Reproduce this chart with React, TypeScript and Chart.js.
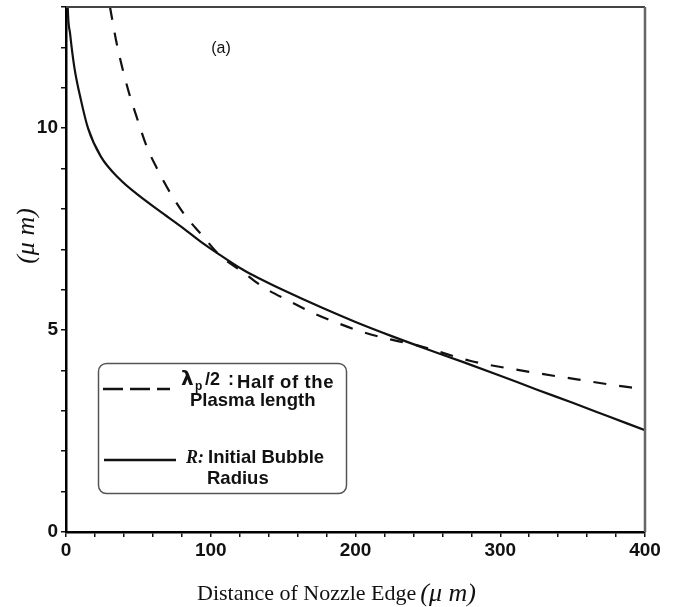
import React, { useEffect, useRef } from "react";
import { Chart, registerables } from "chart.js";

Chart.register(...registerables);

// Solid curve: R, initial bubble radius (µm) vs distance of nozzle edge (µm)
const SOLID_X = [0.6, 1.2, 2.8, 5.8, 10.3, 15.2, 24, 37, 50, 65, 80, 93, 106, 122, 134, 150, 177, 200, 225, 250, 275, 300, 325, 350, 375, 400];
const SOLID_Y = [14.2, 13.0, 12.35, 11.5, 10.7, 10.0, 9.3, 8.74, 8.34, 7.94, 7.55, 7.19, 6.87, 6.5, 6.27, 5.99, 5.55, 5.2, 4.85, 4.52, 4.2, 3.87, 3.53, 3.2, 2.86, 2.52];

// Dashed curve: λp/2, half of the plasma length
const DASH_X = [30.4, 35, 43, 48.8, 55.7, 62.6, 72, 82, 94, 106, 122, 136, 153, 171, 188, 205, 224, 244, 279, 316, 353, 390, 400];
const DASH_Y = [13.0, 12.1, 10.94, 10.28, 9.55, 9.02, 8.4, 7.85, 7.35, 6.86, 6.44, 6.07, 5.74, 5.42, 5.17, 4.95, 4.77, 4.61, 4.24, 3.99, 3.78, 3.58, 3.55];

const X_MAJOR = [0, 100, 200, 300, 400];
const Y_MAJOR = [0, 5, 10];

const X_TITLE = "Distance of Nozzle Edge";
const UNIT = "(\u03bc m)";
const PANEL = "(a)";

const toPts = (xs: number[], ys: number[]) => xs.map((x, i) => ({ x, y: ys[i] }));

const decor = {
  id: "decor",
  afterDraw(chart: any) {
    const ctx = chart.ctx as CanvasRenderingContext2D;
    const a = chart.chartArea;
    ctx.save();
    // top and right frame
    ctx.lineWidth = 2;
    ctx.strokeStyle = "#444";
    ctx.beginPath();
    ctx.moveTo(a.left, a.top);
    ctx.lineTo(a.right, a.top);
    ctx.stroke();
    ctx.strokeStyle = "#666";
    ctx.lineWidth = 2.5;
    ctx.beginPath();
    ctx.moveTo(a.right, a.top);
    ctx.lineTo(a.right, a.bottom);
    ctx.stroke();

    // y title
    ctx.fillStyle = "#111";
    ctx.save();
    ctx.translate(27, 236);
    ctx.rotate(-Math.PI / 2);
    ctx.font = "italic 26px 'Liberation Serif', serif";
    ctx.textAlign = "center";
    ctx.textBaseline = "middle";
    ctx.fillText(UNIT, 0, 0);
    ctx.restore();

    // x title
    ctx.textAlign = "left";
    ctx.textBaseline = "alphabetic";
    ctx.font = "22px 'Liberation Serif', serif";
    ctx.fillText(X_TITLE, 197, 600);
    const w = ctx.measureText(X_TITLE).width;
    ctx.font = "italic 26px 'Liberation Serif', serif";
    ctx.fillText(UNIT, 197 + w + 4, 601);

    // panel label
    ctx.font = "16px 'Liberation Sans', sans-serif";
    ctx.textAlign = "center";
    ctx.textBaseline = "middle";
    ctx.fillText(PANEL, 221, 49);

    // legend box
    ctx.strokeStyle = "#555";
    ctx.lineWidth = 1.5;
    ctx.beginPath();
    (ctx as any).roundRect(98.5, 363.5, 248, 130, 8);
    ctx.stroke();

    ctx.strokeStyle = "#111";
    ctx.lineWidth = 2.5;
    ctx.setLineDash([20, 7]);
    ctx.beginPath();
    ctx.moveTo(103, 389);
    ctx.lineTo(170, 389);
    ctx.stroke();
    ctx.setLineDash([]);
    ctx.beginPath();
    ctx.moveTo(104, 460);
    ctx.lineTo(176, 460);
    ctx.stroke();

    ctx.textAlign = "left";
    ctx.textBaseline = "alphabetic";
    ctx.fillStyle = "#111";
    ctx.font = "bold 20px 'DejaVu Sans', sans-serif";
    ctx.fillText("\u03bb", 181, 385);
    ctx.font = "bold 12px 'Liberation Sans', sans-serif";
    ctx.fillText("p", 195, 390);
    ctx.font = "bold 18px 'Liberation Sans', sans-serif";
    ctx.fillText("/2", 205, 385);
    ctx.fillText(":", 228, 385);
    ctx.font = "bold 18.5px 'Liberation Sans', sans-serif";
    (ctx as any).letterSpacing = "0.6px";
    ctx.fillText("Half of the", 237, 388);
    (ctx as any).letterSpacing = "0px";
    ctx.fillText("Plasma length", 190, 406);
    ctx.font = "bold italic 18px 'Liberation Serif', serif";
    ctx.fillText("R:", 186, 463);
    ctx.font = "bold 18.5px 'Liberation Sans', sans-serif";
    ctx.fillText("Initial Bubble", 208, 463);
    ctx.fillText("Radius", 207, 484);
    ctx.restore();
  },
};

export default function App() {
  const ref = useRef<HTMLCanvasElement>(null);
  useEffect(() => {
    if (!ref.current) return;
    const chart = new Chart(ref.current, {
      type: "line",
      data: {
        datasets: [
          {
            label: "R: Initial Bubble Radius",
            data: toPts(SOLID_X, SOLID_Y),
            borderColor: "#111",
            borderWidth: 2.2,
            pointRadius: 0,
            cubicInterpolationMode: "monotone",
            fill: false,
          },
          {
            label: "λp/2: Half of the Plasma length",
            data: toPts(DASH_X, DASH_Y),
            borderColor: "#111",
            borderWidth: 2.2,
            borderDash: [13, 13],
            pointRadius: 0,
            cubicInterpolationMode: "monotone",
            fill: false,
          },
        ],
      },
      plugins: [decor],
      options: {
        animation: false,
        responsive: false,
        devicePixelRatio: 1,
        layout: { padding: { top: 7, right: 31, left: 0, bottom: 0 } },
        plugins: { legend: { display: false }, tooltip: { enabled: false } },
        scales: {
          x: {
            type: "linear",
            min: 0,
            max: 400,
            afterFit: (s: any) => {
              s.height = 75;
              s.paddingLeft = 0;
              s.paddingRight = 0;
            },
            ticks: {
              stepSize: 20,
              autoSkip: false,
              maxRotation: 0,
              padding: 2,
              color: "#111",
              font: { family: "'Liberation Sans', sans-serif", size: 19, weight: "bold" },
              callback: (v: any) => (X_MAJOR.includes(Number(v)) ? String(v) : ""),
            },
            grid: { drawOnChartArea: false, tickLength: 5, color: "#111", lineWidth: 1.5 },
            border: { color: "#000", width: 2.5 },
          },
          y: {
            min: 0,
            max: 13,
            afterFit: (s: any) => {
              s.width = 66;
              s.paddingTop = 0;
              s.paddingBottom = 0;
            },
            ticks: {
              stepSize: 1,
              autoSkip: false,
              padding: 3,
              color: "#111",
              font: { family: "'Liberation Sans', sans-serif", size: 19, weight: "bold" },
              callback: (v: any) => (Y_MAJOR.includes(Number(v)) ? String(v) : ""),
            },
            grid: { drawOnChartArea: false, tickLength: 5, color: "#111", lineWidth: 1.5 },
            border: { color: "#000", width: 2.5 },
          },
        },
      },
    } as any);
    return () => chart.destroy();
  }, []);
  return (
    <div style={{ position: "absolute", left: 0, top: 0, width: 676, height: 607, background: "#fff" }}>
      <canvas ref={ref} width={676} height={607} style={{ width: 676, height: 607, display: "block" }} />
    </div>
  );
}
